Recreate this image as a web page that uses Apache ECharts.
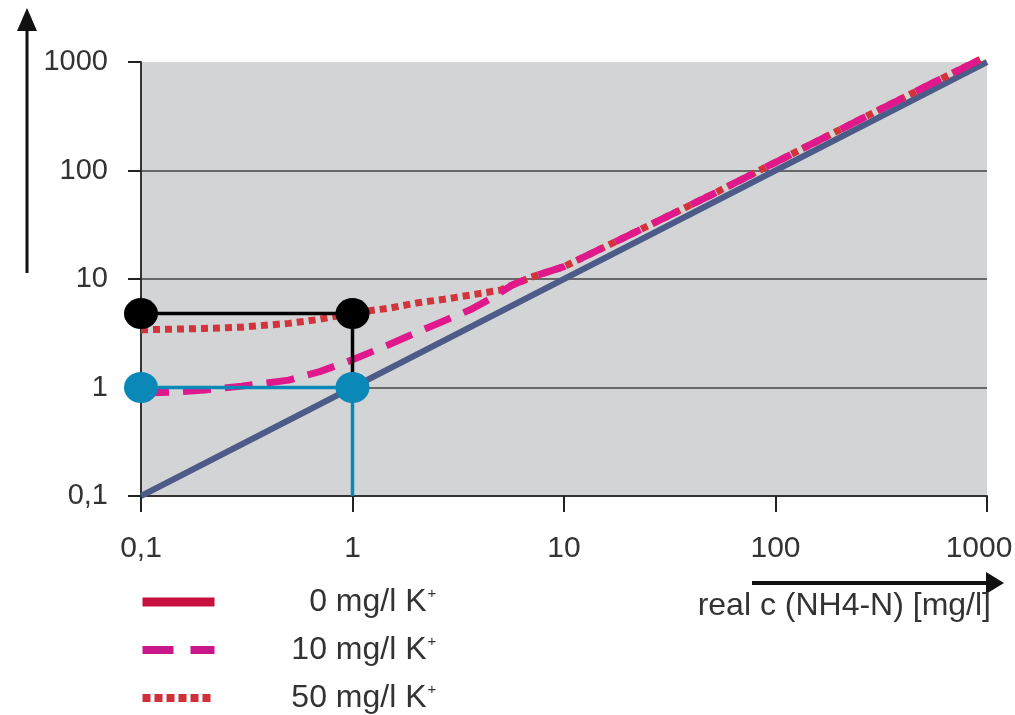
<!DOCTYPE html>
<html><head><meta charset="utf-8">
<script src="https://cdn.jsdelivr.net/npm/echarts@6/dist/echarts.min.js"></script>
<style>html,body{margin:0;padding:0;background:#fff}#c{width:1015px;height:715px}</style>
</head><body><div id="c"></div>
<script>
const FONT = '"Liberation Sans", Arial, Helvetica, sans-serif';
const seriesNames = ['0 mg/l K⁺', '10 mg/l K⁺', '50 mg/l K⁺'];
const tickValues = [0.1, 1, 10, 100, 1000];
const tickLabels = ['0,1', '1', '10', '100', '1000'];
const xName = 'real c (NH4-N) [mg/l]';
// series 0 mg/l K+ (solid)
const solidX = [0.1, 1, 10, 100, 1000];
const solidY = [0.1, 1, 10, 100, 1000];
// series 10 mg/l K+ (dashed)
const dashX = [0.1, 0.15, 0.2, 0.3, 0.5, 0.7, 1, 1.5, 2, 2.7, 3.6, 4.5, 5.7, 7, 10, 20, 50, 100, 200, 500, 960];
const dashY = [0.89, 0.91, 0.95, 1.03, 1.17, 1.4, 1.8, 2.5, 3.2, 4.1, 5.2, 6.6, 8.8, 10.4, 13, 25, 60, 119, 236, 580, 1090];
// series 50 mg/l K+ (dotted)
const dotX = [0.1, 0.2, 0.3, 0.5, 0.7, 1, 1.5, 2, 2.7, 3.6, 5, 5.7, 7, 10, 20, 50, 100, 200, 500, 960];
const dotY = [3.4, 3.5, 3.6, 3.9, 4.25, 4.85, 5.4, 6.0, 6.5, 7.1, 7.9, 8.8, 10.4, 13, 25, 60, 119, 236, 580, 1090];
// reading guides
const blackX = [0.1, 1, 1];
const blackY = [4.8, 4.8, 1];
const blueX = [0.1, 1, 1];
const blueY = [1, 1, 0.1];

const zip = (xs, ys) => xs.map((x, i) => [x, ys[i]]);
const guide = (xs, ys) => xs.map((x, i) => i === xs.length - 1 ? {value: [x, ys[i]], symbol: 'none'} : [x, ys[i]]);
const labelFor = v => {
  let best = 0;
  tickValues.forEach((t, i) => { if (Math.abs(Math.log10(t) - Math.log10(v)) < Math.abs(Math.log10(tickValues[best]) - Math.log10(v))) best = i; });
  return best;
};

const chart = echarts.init(document.getElementById('c'), null, {renderer: 'canvas'});
chart.setOption({
  animation: false,
  backgroundColor: '#fff',
  textStyle: {fontFamily: FONT},
  grid: {left: 141, right: 28, top: 62, bottom: 219, show: true, backgroundColor: '#d3d4d6', borderWidth: 0, containLabel: false, outerBoundsMode: 'none'},
  legend: {
    left: 138, top: 586, orient: 'vertical', itemWidth: 72, itemHeight: 14, itemGap: 16, padding: 0, height: 140,
    selectedMode: false,
    data: [
      {name: seriesNames[0], lineStyle: {color: '#c8103e', width: 9, type: 'solid', cap: 'butt'}, itemStyle: {opacity: 0}},
      {name: seriesNames[1], lineStyle: {color: '#c8178a', width: 8, type: [31, 17], cap: 'butt'}, itemStyle: {opacity: 0}},
      {name: seriesNames[2], lineStyle: {color: '#d0303a', width: 8, type: [8, 4], cap: 'butt'}, itemStyle: {opacity: 0}}
    ],
    formatter: n => '{a|' + n.replace('⁺', '') + '}{s|+}',
    textStyle: {
      color: '#333', fontSize: 32, fontFamily: FONT,
      rich: {
        a: {width: 207, align: 'right', fontSize: 32, lineHeight: 32, color: '#333', fontFamily: FONT},
        s: {align: 'right', fontSize: 15, verticalAlign: 'top', color: '#333', padding: [0, 0, 0, 1], fontFamily: FONT}
      }
    }
  },
  xAxis: {
    type: 'log', logBase: 10, min: 0.1, max: 1000,
    name: xName, nameLocation: 'end', nameGap: 4, nameMoveOverlap: false,
    nameTextStyle: {fontSize: 32, color: '#333', align: 'right', verticalAlign: 'top', padding: [94, 0, 0, 0], fontFamily: FONT},
    axisLine: {show: true, lineStyle: {color: '#333', width: 2}},
    axisTick: {show: true, length: 16, lineStyle: {color: '#222', width: 2}},
    splitLine: {show: false},
    axisLabel: {
      color: '#333', fontSize: 30, margin: 38, fontFamily: FONT,
      formatter: v => { const i = labelFor(v); return i === tickValues.length - 1 ? '{m|' + tickLabels[i] + '}' : tickLabels[i]; },
      rich: {m: {fontSize: 30, color: '#333', padding: [0, 16, 0, 0], fontFamily: FONT}}
    }
  },
  yAxis: {
    type: 'log', logBase: 10, min: 0.1, max: 1000,
    axisLine: {show: true, lineStyle: {color: '#333', width: 2}},
    axisTick: {show: true, length: 13, lineStyle: {color: '#222', width: 2}},
    splitLine: {show: true, showMinLine: false, showMaxLine: false, lineStyle: {color: '#444', width: 1.5}},
    axisLabel: {color: '#333', fontSize: 29, margin: 33, fontFamily: FONT, formatter: v => tickLabels[labelFor(v)]}
  },
  graphic: [
    {type: 'line', shape: {x1: 27, y1: 273, x2: 27, y2: 28}, style: {stroke: '#111', lineWidth: 3}},
    {type: 'polygon', shape: {points: [[27, 8], [17, 31], [37, 31]]}, style: {fill: '#111'}},
    {type: 'line', shape: {x1: 752, y1: 583, x2: 988, y2: 583}, style: {stroke: '#111', lineWidth: 4}},
    {type: 'polygon', shape: {points: [[1004, 583], [986, 572], [986, 594]]}, style: {fill: '#111'}}
  ],
  series: [
    {name: seriesNames[0], type: 'line', data: zip(solidX, solidY), symbol: 'none', clip: false, z: 2,
     lineStyle: {color: '#4c5b88', width: 6}, itemStyle: {color: '#4c5b88'}},
    {name: seriesNames[2], type: 'line', data: zip(dotX, dotY), symbol: 'none', clip: false, z: 3,
     lineStyle: {color: '#d3343c', width: 7, type: [7, 5], cap: 'butt'}, itemStyle: {color: '#d3343c'}},
    {name: seriesNames[1], type: 'line', data: zip(dashX, dashY), symbol: 'none', clip: false, z: 4,
     lineStyle: {color: '#e0188c', width: 7, type: [28, 14], cap: 'butt'}, itemStyle: {color: '#e0188c'}},
    {name: 'guide50', type: 'line', data: guide(blackX, blackY), symbol: 'circle', symbolSize: [34, 31], showSymbol: true, clip: false, z: 5,
     lineStyle: {color: '#000', width: 3.5}, itemStyle: {color: '#000'}},
    {name: 'guide10', type: 'line', data: guide(blueX, blueY), symbol: 'circle', symbolSize: [34, 31], showSymbol: true, clip: false, z: 6,
     lineStyle: {color: '#0a88b8', width: 3.5}, itemStyle: {color: '#0a88b8'}}
  ]
});
</script></body></html>
